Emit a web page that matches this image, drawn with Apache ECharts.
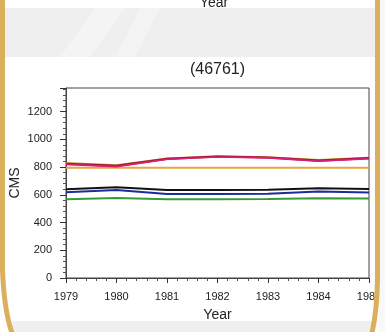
<!DOCTYPE html>
<html>
<head>
<meta charset="utf-8">
<script src="https://cdn.jsdelivr.net/npm/echarts@6/dist/echarts.min.js"></script>
<style>
html,body{margin:0;padding:0;background:#fff;}
#c{width:385px;height:332px;}
</style>
</head>
<body>
<div id="c"></div>
<script>
// ---- data ----
var years = [1979, 1980, 1981, 1982, 1983, 1984, 1985];
var seriesOlive   = [830, 813, 862, 877, 871, 851, 867];
var seriesCrimson = [823, 808, 859, 876, 869, 847, 864];
var seriesMagenta = [819, 803, 856, 873, 866, 843, 861];
var seriesOrange  = [795, 795, 795, 795, 795, 795, 795];
var seriesBlack   = [640, 654, 635, 635, 636, 647, 642];
var seriesBlue    = [618, 635, 606, 605, 607, 623, 616];
var seriesGreen   = [567, 577, 568, 568, 570, 575, 574];
var yTicks = [0, 200, 400, 600, 800, 1000, 1200];
var titleText = '(46761)';
var xTitle = 'Year';
var yTitle = 'CMS';

function pairs(arr) { return years.map(function (y, i) { return [y, arr[i]]; }); }

var FONT = 'Liberation Sans, Arial, sans-serif';
var GOLD = '#dbaf5c';
var BAND = '#efefef';

var chart = echarts.init(document.getElementById('c'), null, {renderer: 'canvas'});

function line(name, data, color, w, z) {
  return {
    name: name, type: 'line', data: pairs(data), symbol: 'none', smooth: false,
    lineStyle: {color: color, width: w}, itemStyle: {color: color}, z: z, animation: false
  };
}

chart.setOption({
  backgroundColor: '#ffffff',
  animation: false,
  grid: {left: 66, right: 16, top: 88, bottom: 54, show: true, borderColor: '#444', borderWidth: 1,
    backgroundColor: 'transparent', containLabel: false, outerBoundsMode: 'none'},
  xAxis: {
    type: 'value', min: years[0], max: years[years.length - 1], interval: 1,
    name: xTitle, nameLocation: 'middle', nameGap: 30, nameMoveOverlap: false,
    nameTextStyle: {fontFamily: FONT, fontSize: 14, color: '#222'},
    axisLine: {show: true, onZero: false, lineStyle: {color: '#444', width: 1}},
    axisTick: {show: true, length: 5, lineStyle: {color: '#333'}},
    minorTick: {show: true, splitNumber: 5, length: 3, lineStyle: {color: '#555'}},
    axisLabel: {fontFamily: FONT, fontSize: 11, color: '#222', margin: 13, formatter: function (v) { return String(v); }},
    splitLine: {show: false}
  },
  yAxis: {
    type: 'value', min: yTicks[0], max: 1370, interval: 200,
    name: yTitle, nameLocation: 'middle', nameGap: 44, nameRotate: 90, nameMoveOverlap: false,
    nameTextStyle: {fontFamily: FONT, fontSize: 14, color: '#222'},
    axisLine: {show: true, lineStyle: {color: '#444', width: 1}},
    axisTick: {show: true, length: 6, lineStyle: {color: '#333'}},
    minorTick: {show: true, splitNumber: 5, length: 3, lineStyle: {color: '#555'}},
    axisLabel: {fontFamily: FONT, fontSize: 11, color: '#222', margin: 14, showMaxLabel: false,
      formatter: function (v) { return yTicks.indexOf(v) >= 0 ? String(v) : ''; }},
    splitLine: {show: false}
  },
  series: [
    line('olive', seriesOlive, '#b8a030', 2, 2),
    line('orange', seriesOrange, '#e9a545', 2, 2),
    line('crimson', seriesCrimson, '#a8122e', 2.2, 3),
    line('magenta', seriesMagenta, '#d6207a', 1.6, 4),
    line('black', seriesBlack, '#111111', 2, 3),
    line('blue', seriesBlue, '#1f2a9c', 2, 3),
    line('green', seriesGreen, '#3a9a3a', 2, 3)
  ],
  graphic: [
    {type: 'rect', shape: {x: 5, y: 8, width: 370, height: 49}, style: {fill: BAND}, z: 0, silent: true},
    {type: 'polygon', shape: {points: [[60, 57], [95, 8], [125, 8], [90, 57]]}, style: {fill: '#f4f4f4'}, z: 0, silent: true},
    {type: 'polygon', shape: {points: [[115, 57], [140, 8], [160, 8], [135, 57]]}, style: {fill: '#f3f3f3'}, z: 0, silent: true},
    {type: 'rect', shape: {x: 12, y: 321, width: 362, height: 11}, style: {fill: BAND}, z: 0, silent: true},
    {type: 'rect', shape: {x: 5, y: 0, width: 370, height: 8}, style: {fill: '#ffffff'}, z: 1, silent: true},
    {type: 'text', style: {text: 'Year', x: 214, y: 10, fontFamily: FONT, fontSize: 14, fill: '#222', textAlign: 'center', textVerticalAlign: 'bottom'}, z: 2, silent: true},
    {type: 'text', style: {text: titleText, x: 217.5, y: 70, fontFamily: FONT, fontSize: 16, fill: '#222', textAlign: 'center', textVerticalAlign: 'middle'}, z: 50, silent: true},
    {type: 'rect', shape: {x: 379, y: 0, width: 6, height: 332}, style: {fill: '#f8f8f8'}, z: 90, silent: true},
    {type: 'line', shape: {x1: 2.5, y1: 0, x2: 2.5, y2: 270}, style: {stroke: GOLD, lineWidth: 5}, z: 100, silent: true},
    {type: 'bezierCurve', shape: {x1: 2.5, y1: 270, cpx1: 4, cpy1: 310, x2: 12, y2: 333}, style: {fill: 'none', stroke: GOLD, lineWidth: 5}, z: 100, silent: true},
    {type: 'line', shape: {x1: 377.5, y1: 0, x2: 377.5, y2: 280}, style: {stroke: GOLD, lineWidth: 5}, z: 100, silent: true},
    {type: 'bezierCurve', shape: {x1: 377.5, y1: 280, cpx1: 377, cpy1: 310, x2: 372, y2: 333}, style: {fill: 'none', stroke: GOLD, lineWidth: 5}, z: 100, silent: true}
  ]
});
</script>
</body>
</html>
